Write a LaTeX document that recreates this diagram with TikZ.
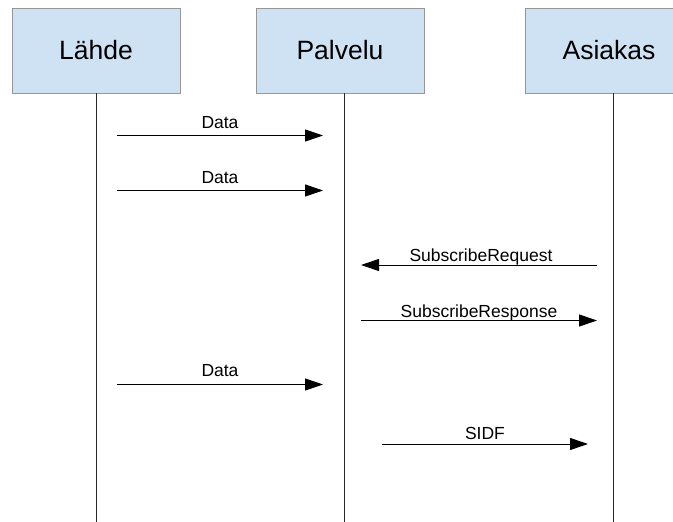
\documentclass[tikz,border=0pt]{standalone}
\usepackage{fontspec}
\setmainfont{Liberation Sans}
\usetikzlibrary{arrows.meta}
\definecolor{boxfill}{RGB}{207,226,243}
\definecolor{boxline}{RGB}{150,150,150}
\definecolor{lifeline}{RGB}{40,40,40}
\begin{document}
\begin{tikzpicture}[x=1pt,y=-1pt,
  actor/.style={draw=boxline, fill=boxfill, line width=0.8pt,
    minimum width=168pt, minimum height=85pt, inner sep=0pt,
    font=\fontsize{26.5}{30}\selectfont},
  life/.style={draw=lifeline, line width=1pt},
  msg/.style={draw=black, line width=1pt,
    -{Triangle[length=18pt,width=12pt]}},
  lbl/.style={font=\fontsize{17.5}{20}\selectfont, inner sep=0pt, anchor=base}]
\clip (0,0) rectangle (673,522);
\fill[white] (0,0) rectangle (673,522);

% participants
\node[actor] (src) at (96,50.5) {Lähde};
\node[actor] (srv) at (340,50.5) {Palvelu};
\node[actor, minimum width=190pt, text width=168pt, align=center] (cli) at (620,50.5) {\hspace*{-22pt}Asiakas};

% lifelines
\coordinate (srcT) at (96,93);   \coordinate (srcB) at (96,522);
\coordinate (srvT) at (344,93);  \coordinate (srvB) at (344,522);
\coordinate (cliT) at (613,93);  \coordinate (cliB) at (613,522);
\draw[life] (srcT) -- (srcB);
\draw[life] (srvT) -- (srvB);
\draw[life] (cliT) -- (cliB);

% message end points
\coordinate (m1a) at (117,135.5);  \coordinate (m1b) at (323,135.5);
\coordinate (m2a) at (117,190.5);  \coordinate (m2b) at (323,190.5);
\coordinate (m3a) at (597,265);    \coordinate (m3b) at (361,265);
\coordinate (m4a) at (361,320.5);  \coordinate (m4b) at (597,320.5);
\coordinate (m5a) at (117,384.5);  \coordinate (m5b) at (323,384.5);
\coordinate (m6a) at (382,444);    \coordinate (m6b) at (588,444);

% messages
\draw[msg] (m1a) -- node[lbl, yshift=7pt] {Data} (m1b);
\draw[msg] (m2a) -- node[lbl, yshift=7pt] {Data} (m2b);
\draw[msg] (m3a) -- node[lbl, xshift=2pt, yshift=4pt] {SubscribeRequest} (m3b);
\draw[msg] (m4a) -- node[lbl, yshift=3.5pt] {SubscribeResponse} (m4b);
\draw[msg] (m5a) -- node[lbl, yshift=8pt] {Data} (m5b);
\draw[msg] (m6a) -- node[lbl, yshift=5pt] {SIDF} (m6b);
\end{tikzpicture}
\end{document}
